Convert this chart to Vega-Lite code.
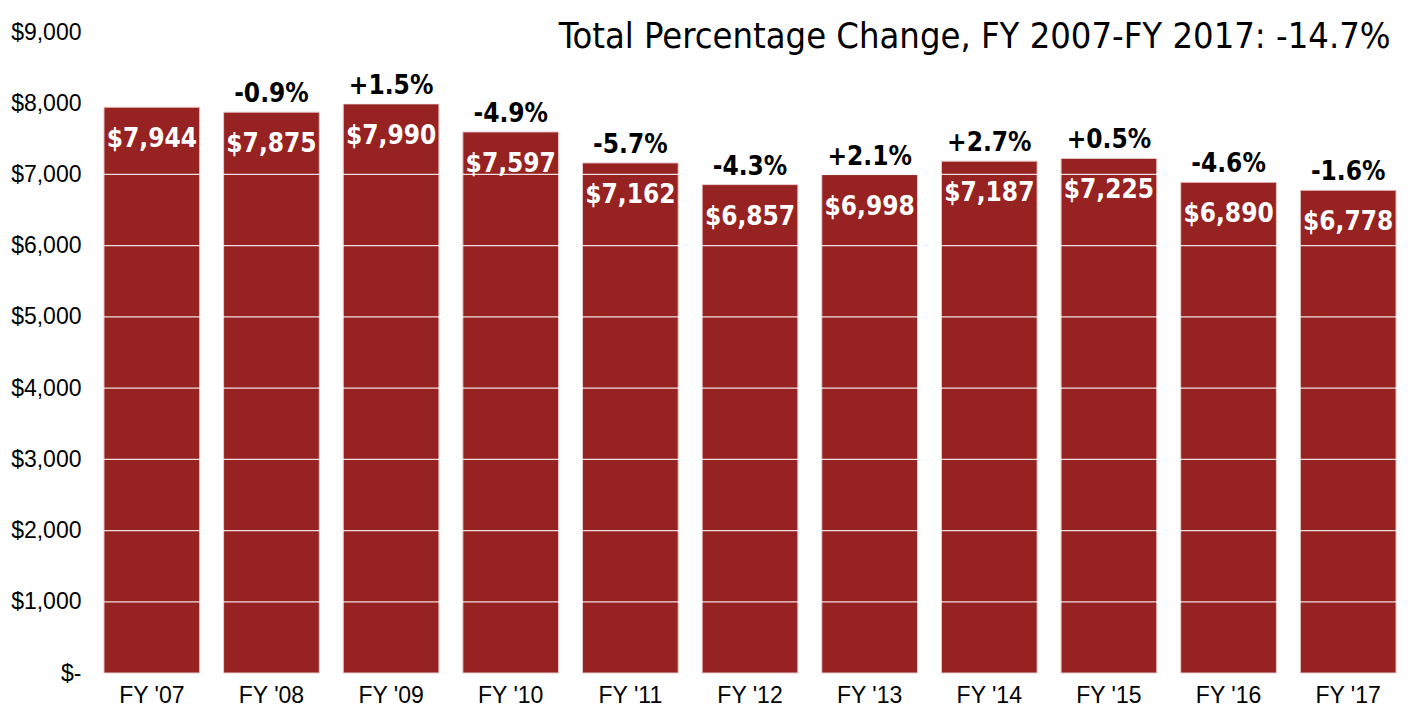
{
  "$schema": "https://vega.github.io/schema/vega-lite/v6.json",
  "autosize": "none",
  "width": 1316,
  "height": 641,
  "padding": {"left": 92, "top": 32, "right": 0, "bottom": 37},
  "background": "white",
  "config": {"view": {"stroke": null}},
  "title": {
    "text": "Total Percentage Change, FY 2007-FY 2017: -14.7%",
    "anchor": "end",
    "orient": "top",
    "baseline": "alphabetic",
    "offset": 0,
    "dy": 63,
    "dx": -18,
    "font": "DejaVu Sans Condensed, Liberation Sans, sans-serif",
    "fontSize": 36,
    "fontWeight": "normal",
    "color": "#000000"
  },
  "datasets": {
    "bars": [
      {"year": "FY '07", "value": 7944, "change": ""},
      {"year": "FY '08", "value": 7875, "change": "-0.9%"},
      {"year": "FY '09", "value": 7990, "change": "+1.5%"},
      {"year": "FY '10", "value": 7597, "change": "-4.9%"},
      {"year": "FY '11", "value": 7162, "change": "-5.7%"},
      {"year": "FY '12", "value": 6857, "change": "-4.3%"},
      {"year": "FY '13", "value": 6998, "change": "+2.1%"},
      {"year": "FY '14", "value": 7187, "change": "+2.7%"},
      {"year": "FY '15", "value": 7225, "change": "+0.5%"},
      {"year": "FY '16", "value": 6890, "change": "-4.6%"},
      {"year": "FY '17", "value": 6778, "change": "-1.6%"}
    ],
    "grid": [
      {"level": 1000}, {"level": 2000}, {"level": 3000}, {"level": 4000},
      {"level": 5000}, {"level": 6000}, {"level": 7000}, {"level": 8000}
    ]
  },
  "layer": [
    {
      "data": {"name": "bars"},
      "mark": {"type": "bar", "color": "#962222", "stroke": "#e9caca", "strokeWidth": 1},
      "encoding": {
        "x": {
          "field": "year",
          "type": "nominal",
          "sort": null,
          "scale": {"paddingInner": 0.2, "paddingOuter": 0.1},
          "axis": {
            "title": null,
            "labelAngle": 0,
            "ticks": false,
            "domain": false,
            "labelFont": "Liberation Sans",
            "labelFontSize": 23,
            "labelColor": "#000000",
            "labelPadding": 11
          }
        },
        "y": {
          "field": "value",
          "type": "quantitative",
          "scale": {"domain": [0, 9000], "nice": false},
          "axis": {
            "title": null,
            "values": [0, 1000, 2000, 3000, 4000, 5000, 6000, 7000, 8000, 9000],
            "labelExpr": "datum.value == 0 ? '$-' : '$' + format(datum.value, ',')",
            "ticks": false,
            "domain": false,
            "grid": false,
            "labelFont": "Liberation Sans",
            "labelFontSize": 23,
            "labelColor": "#000000",
            "labelPadding": 11
          }
        }
      }
    },
    {
      "data": {"name": "grid"},
      "mark": {"type": "rule", "color": "#ffffff", "strokeWidth": 1.2, "opacity": 0.85},
      "encoding": {
        "y": {"field": "level", "type": "quantitative"}
      }
    },
    {
      "data": {"name": "bars"},
      "mark": {
        "type": "text",
        "baseline": "alphabetic",
        "dy": 40,
        "color": "#ffffff",
        "font": "DejaVu Sans Condensed, Liberation Sans, sans-serif",
        "fontWeight": "bold",
        "fontSize": 26
      },
      "encoding": {
        "x": {"field": "year", "type": "nominal", "sort": null},
        "y": {"field": "value", "type": "quantitative"},
        "text": {"field": "value", "type": "quantitative", "format": "$,"}
      }
    },
    {
      "data": {"name": "bars"},
      "mark": {
        "type": "text",
        "baseline": "alphabetic",
        "dy": -10,
        "color": "#000000",
        "font": "DejaVu Sans Condensed, Liberation Sans, sans-serif",
        "fontWeight": "bold",
        "fontSize": 26
      },
      "encoding": {
        "x": {"field": "year", "type": "nominal", "sort": null},
        "y": {"field": "value", "type": "quantitative"},
        "text": {"field": "change", "type": "nominal"}
      }
    }
  ]
}
